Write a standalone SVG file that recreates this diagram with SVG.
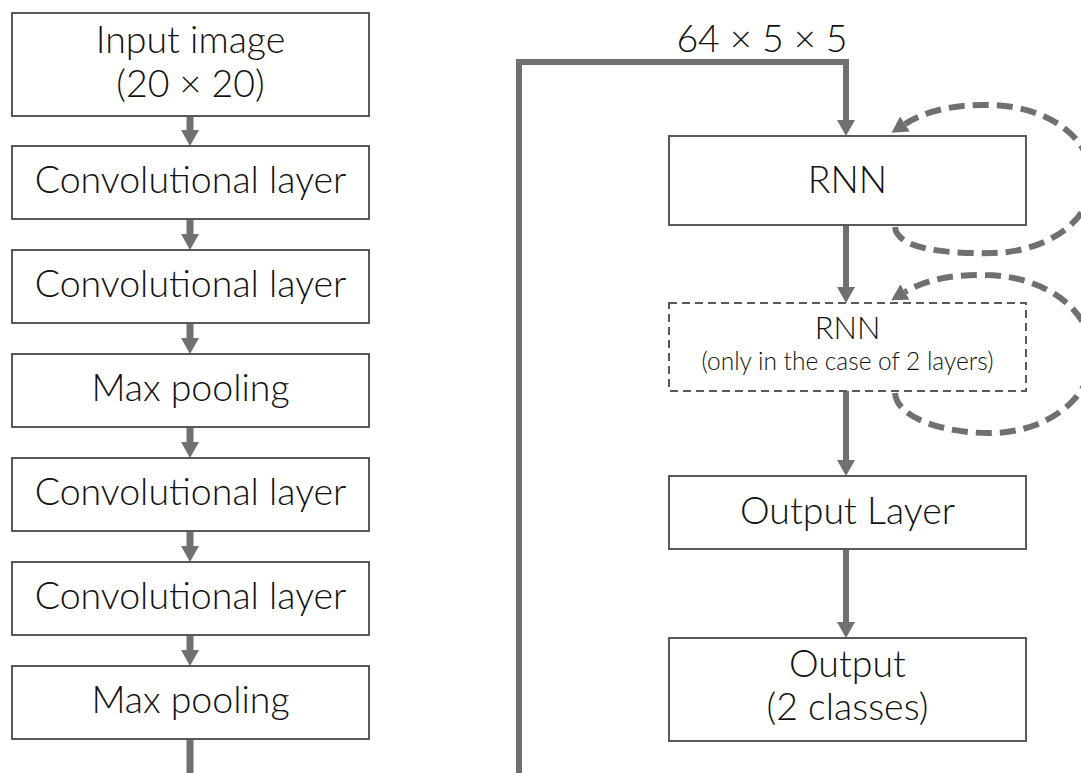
<svg xmlns="http://www.w3.org/2000/svg" width="1081" height="773" viewBox="0 0 1081 773">
  <style>
    .box { fill: #ffffff; stroke: #595959; stroke-width: 2; }
    .dbox { fill: #ffffff; stroke: #595959; stroke-width: 2; stroke-dasharray: 8 5; }
    .lbl { font-family: Lato, "Liberation Sans", sans-serif; font-weight: 300; font-size: 37.5px; fill: #111111; text-anchor: middle; }
    .mid { font-size: 31px; }
    .small { font-size: 24.5px; }
    .flow { fill: none; stroke: #707070; stroke-width: 7; }
    .flow-r { fill: none; stroke: #707070; stroke-width: 6; stroke-linejoin: miter; }
    .loop { fill: none; stroke: #707070; stroke-width: 6; stroke-dasharray: 16 8; }
  </style>
  <defs>
    <marker id="head" markerUnits="userSpaceOnUse" viewBox="0 0 16 18" refX="0" refY="9" markerWidth="16" markerHeight="18" orient="auto">
      <path d="M0,0 L16,9 L0,18 z" fill="#707070"/>
    </marker>
  </defs>

  <rect width="1081" height="773" fill="#ffffff"/>

  <!-- connectors -->
  <g id="connectors">
    <!-- CNN column -->
    <line class="flow" x1="190" y1="116" x2="190" y2="130" marker-end="url(#head)"/>
    <line class="flow" x1="190" y1="219" x2="190" y2="234" marker-end="url(#head)"/>
    <line class="flow" x1="190" y1="323" x2="190" y2="338" marker-end="url(#head)"/>
    <line class="flow" x1="190" y1="427" x2="190" y2="442" marker-end="url(#head)"/>
    <line class="flow" x1="190" y1="531" x2="190" y2="546" marker-end="url(#head)"/>
    <line class="flow" x1="190" y1="635" x2="190" y2="650" marker-end="url(#head)"/>
    <line class="flow" x1="190" y1="739" x2="190" y2="773"/>
    <!-- feature map into RNN -->
    <path class="flow-r" d="M519,773 V62 H846 V120" marker-end="url(#head)"/>
    <!-- RNN column -->
    <line class="flow-r" x1="846" y1="225" x2="846" y2="287" marker-end="url(#head)"/>
    <line class="flow-r" x1="846" y1="391" x2="846" y2="460" marker-end="url(#head)"/>
    <line class="flow-r" x1="846" y1="549" x2="846" y2="622" marker-end="url(#head)"/>
    <!-- recurrent loops -->
    <path class="loop" d="M895,227 C897,250 950,254 993,253 C1045,252 1092,222 1092,180 C1092,138 1048,106 990,105 C950,104 922,113 905,124" marker-end="url(#head)"/>
    <path class="loop" d="M895,393 C897,420 950,434 993,433 C1045,432 1092,400 1092,355 C1092,312 1048,276 985,275 C945,274 920,283 905,292" marker-end="url(#head)"/>
    <text class="lbl" x="762" y="52">64 × 5 × 5</text>
  </g>

  <!-- CNN nodes -->
  <g id="input">
    <rect class="box" x="12" y="13" width="357" height="103"/>
    <text class="lbl" x="190.5" y="53">Input image</text>
    <text class="lbl" x="190.5" y="97">(20 × 20)</text>
  </g>
  <g id="conv1">
    <rect class="box" x="12" y="146" width="357" height="73"/>
    <text class="lbl" x="190.5" y="193">Convolutional layer</text>
  </g>
  <g id="conv2">
    <rect class="box" x="12" y="250" width="357" height="73"/>
    <text class="lbl" x="190.5" y="297">Convolutional layer</text>
  </g>
  <g id="pool1">
    <rect class="box" x="12" y="354" width="357" height="73"/>
    <text class="lbl" x="190.5" y="401">Max pooling</text>
  </g>
  <g id="conv3">
    <rect class="box" x="12" y="458" width="357" height="73"/>
    <text class="lbl" x="190.5" y="505">Convolutional layer</text>
  </g>
  <g id="conv4">
    <rect class="box" x="12" y="562" width="357" height="73"/>
    <text class="lbl" x="190.5" y="609">Convolutional layer</text>
  </g>
  <g id="pool2">
    <rect class="box" x="12" y="666" width="357" height="73"/>
    <text class="lbl" x="190.5" y="713">Max pooling</text>
  </g>

  <!-- RNN nodes -->
  <g id="rnn1">
    <rect class="box" x="669" y="136" width="357" height="89"/>
    <text class="lbl" x="847.5" y="193">RNN</text>
  </g>
  <g id="rnn2">
    <rect class="dbox" x="669" y="303" width="357" height="88"/>
    <text class="lbl mid" x="847.5" y="339">RNN</text>
    <text class="lbl small" x="847.5" y="370">(only in the case of 2 layers)</text>
  </g>
  <g id="output-layer">
    <rect class="box" x="669" y="476" width="357" height="73"/>
    <text class="lbl" x="847.5" y="524">Output Layer</text>
  </g>
  <g id="output">
    <rect class="box" x="669" y="638" width="357" height="103"/>
    <text class="lbl" x="847.5" y="677">Output</text>
    <text class="lbl" x="847.5" y="720">(2 classes)</text>
  </g>
</svg>
